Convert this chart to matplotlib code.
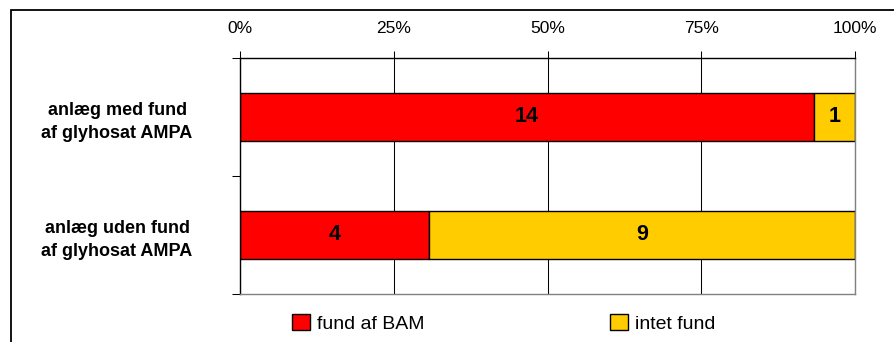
import matplotlib
matplotlib.use("Agg")
import matplotlib.pyplot as plt
from matplotlib.patches import Rectangle
import numpy as np

plt.rcParams['font.family'] = ['Liberation Sans', 'DejaVu Sans']

categories = ["anlæg med fund\naf glyhosat AMPA", "anlæg uden fund\naf glyhosat AMPA"]
series_names = ["fund af BAM", "intet fund"]
fund_bam = [14, 4]
intet_fund = [1, 9]
x_ticks = [0, 25, 50, 75, 100]
x_tick_labels = ["0%", "25%", "50%", "75%", "100%"]

colors = ["#FF0000", "#FFCC00"]

W, H = 894, 342
fig = plt.figure(figsize=(W / 100, H / 100), dpi=100)
ax = fig.add_axes([240 / W, 1 - 294 / H, 615 / W, 236 / H])

totals = np.array(fund_bam, dtype=float) + np.array(intet_fund, dtype=float)
pct_a = np.array(fund_bam) / totals * 100
pct_b = np.array(intet_fund) / totals * 100
ypos = np.arange(len(categories))

bars_a = ax.barh(ypos, pct_a, height=0.4, color=colors[0], edgecolor="black",
                 linewidth=1.0, label=series_names[0])
bars_b = ax.barh(ypos, pct_b, left=pct_a, height=0.4, color=colors[1],
                 edgecolor="black", linewidth=1.0, label=series_names[1])

# value labels inside each segment
for bars, vals in ((bars_a, fund_bam), (bars_b, intet_fund)):
    for rect, v in zip(bars, vals):
        cx = rect.get_x() + rect.get_width() / 2
        cy = rect.get_y() + rect.get_height() / 2
        ax.text(cx, cy, str(v), ha="center", va="center", fontsize=15.5,
                fontweight="bold", color="black")

ax.set_xlim(0, 100)
ax.set_ylim(1.5, -0.5)

# percentage axis along the top
ax.xaxis.tick_top()
ax.set_xticks(x_ticks)
ax.set_xticklabels(x_tick_labels)
ax.tick_params(axis="x", which="major", direction="out", length=4.7, width=0.75,
               pad=11, labelsize=12.5, colors="black")

# category separators on the left, labels centred between them
ax.set_yticks([-0.5, 0.5, 1.5])
ax.set_yticklabels([])
ax.tick_params(axis="y", which="major", direction="out", length=5.6, width=0.75)
ax.set_yticks(ypos, minor=True)
ax.set_yticklabels(categories, minor=True, fontsize=13, fontweight="bold")
ax.tick_params(axis="y", which="minor", length=0, pad=88.5)
for lbl in ax.get_yticklabels(minor=True):
    lbl.set_horizontalalignment("center")
    lbl.set_multialignment("center")
    lbl.set_linespacing(1.45)

ax.set_axisbelow(True)
ax.xaxis.grid(True, color="black", linewidth=0.75)
ax.spines["top"].set_color("black")
ax.spines["left"].set_color("black")
ax.spines["right"].set_color("#808080")
ax.spines["bottom"].set_color("#808080")
for s in ax.spines.values():
    s.set_linewidth(1.0)

leg = fig.legend(handles=[bars_a, bars_b], labels=series_names, ncol=2,
                 loc="center left", bbox_to_anchor=(292 / W, 1 - 323.5 / H),
                 frameon=False, fontsize=14, handlelength=0.95, handleheight=0.85,
                 handletextpad=0.35, columnspacing=9.5, borderpad=0,
                 borderaxespad=0)

# outer frame of the chart
fig.patches.append(Rectangle((10.5 / W, -0.1), 1.0, 1 - 10.5 / H + 0.1,
                             transform=fig.transFigure, fill=False,
                             edgecolor="black", linewidth=1.3))

fig.savefig("out.png", dpi=100)
